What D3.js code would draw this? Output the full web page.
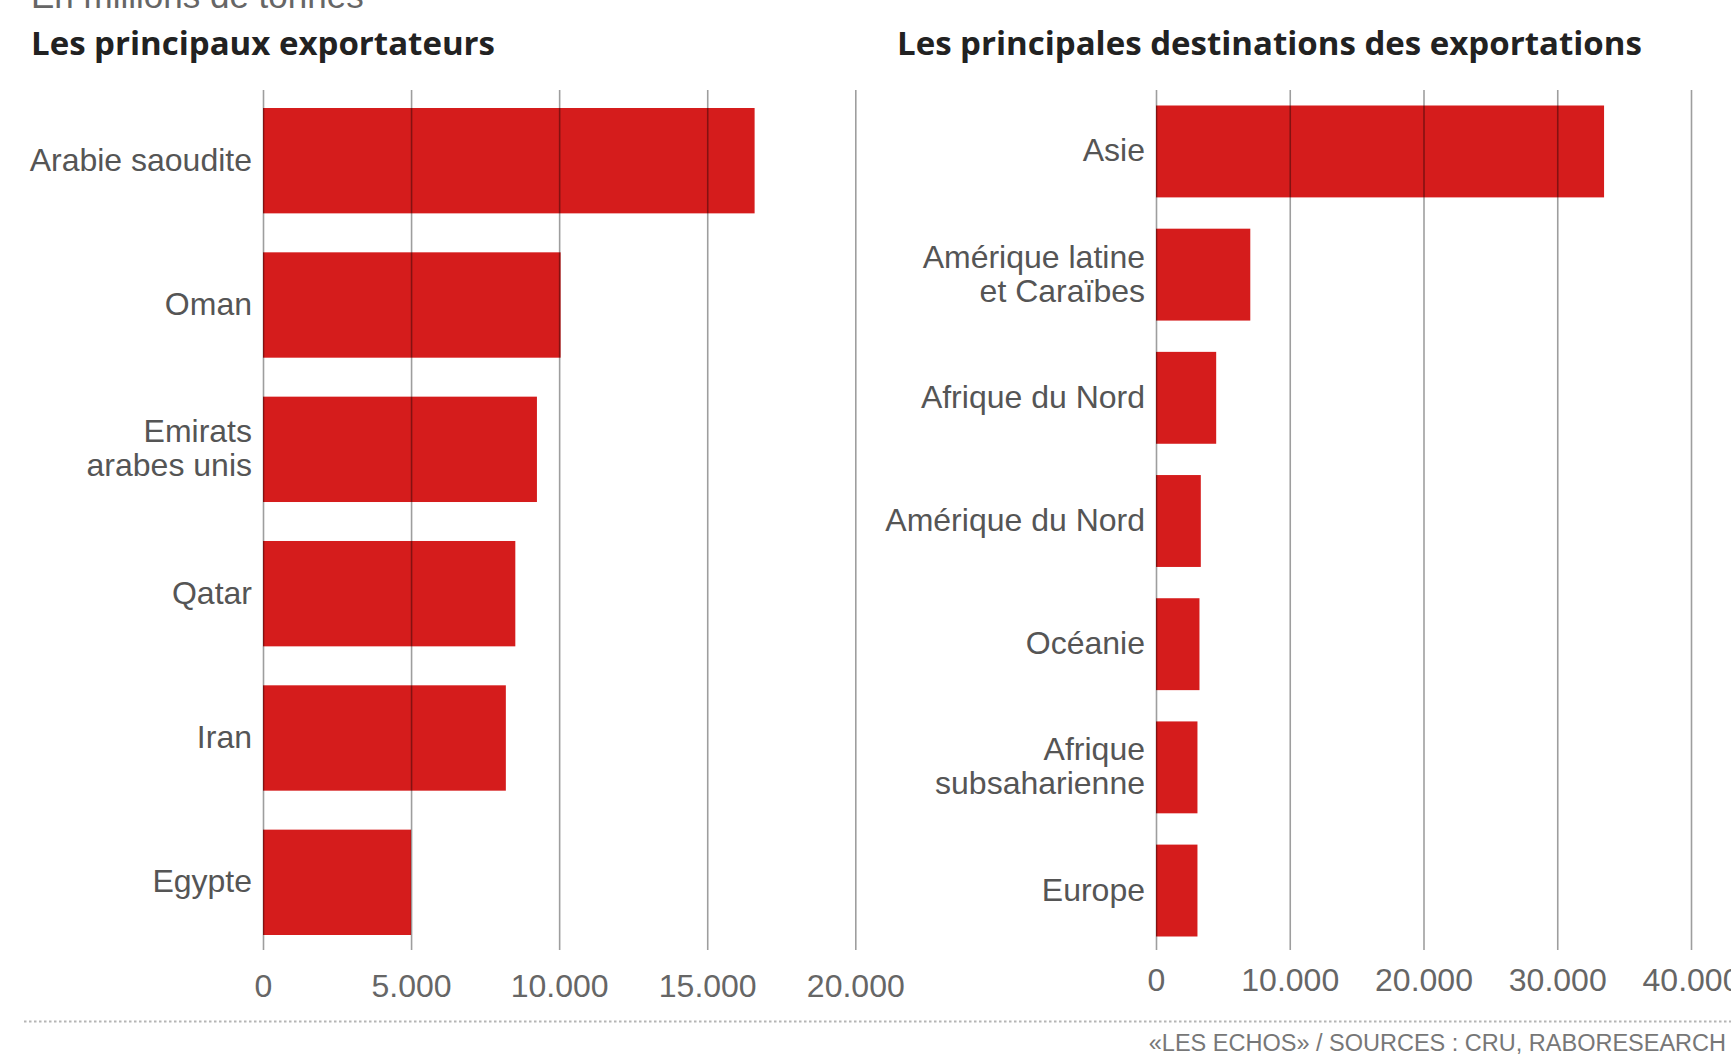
<!DOCTYPE html>
<html>
<head>
<meta charset="utf-8">
<script src="https://cdn.jsdelivr.net/npm/d3@7"></script>
<style>
  html, body { margin: 0; padding: 0; background: #fff; }
  svg { display: block; }
</style>
</head>
<body>
<svg id="chart" width="1731" height="1058"></svg>
<script>
// ---- Data ----
const exporters = ["Arabie saoudite", "Oman", "Emirats\narabes unis", "Qatar", "Iran", "Egypte"];
const exportValues = [16600, 10050, 9250, 8520, 8200, 5000];
const exportTicks = [0, 5000, 10000, 15000, 20000];

const destinations = ["Asie", "Amérique latine\net Caraïbes", "Afrique du Nord", "Amérique du Nord", "Océanie", "Afrique\nsubsaharienne", "Europe"];
const destinationValues = [33500, 7050, 4500, 3350, 3250, 3100, 3100];
const destinationTicks = [0, 10000, 20000, 30000, 40000];

const subtitle = "En millions de tonnes";
const leftTitle = "Les principaux exportateurs";
const rightTitle = "Les principales destinations des exportations";
const source = "«LES ECHOS» / SOURCES : CRU, RABORESEARCH";

// ---- Styles ----
const RED = "#d51c1c";
const LABEL_FONT = "'Liberation Sans', Arial, sans-serif";
const TITLE_FONT = "'Open Sans', 'Liberation Sans', Arial, sans-serif";

const svg = d3.select("#chart");
const fr = d3.formatLocale({decimal: ",", thousands: ".", grouping: [3], currency: ["", ""]});
const fmt = fr.format(",d");

// header texts
svg.append("text")
  .attr("x", 31).attr("y", 8)
  .attr("font-family", LABEL_FONT).attr("font-size", 35)
  .attr("fill", "#666")
  .text(subtitle);

svg.append("text")
  .attr("x", 31).attr("y", 55)
  .attr("font-family", TITLE_FONT).attr("font-weight", 700).attr("font-size", 33)
  .attr("fill", "#222")
  .text(leftTitle);

svg.append("text")
  .attr("x", 897).attr("y", 55)
  .attr("font-family", TITLE_FONT).attr("font-weight", 700).attr("font-size", 33)
  .attr("fill", "#222")
  .text(rightTitle);

function panel(cfg) {
  const g = svg.append("g");
  const x = d3.scaleLinear().domain(cfg.domain).range(cfg.xRange);
  const y = d3.scaleBand().domain(cfg.cats).range(cfg.yRange).paddingInner(cfg.pad).paddingOuter(0);

  g.selectAll("rect.bar")
    .data(cfg.cats.map((c, i) => ({c, v: cfg.values[i]})))
    .join("rect")
    .attr("class", "bar")
    .attr("x", x(0))
    .attr("y", d => y(d.c))
    .attr("width", d => x(d.v) - x(0))
    .attr("height", y.bandwidth())
    .attr("fill", RED);

  // category labels
  const lab = g.selectAll("text.cat")
    .data(cfg.cats)
    .join("text")
    .attr("class", "cat")
    .attr("text-anchor", "end")
    .attr("font-family", LABEL_FONT)
    .attr("font-size", 32)
    .attr("fill", "#555");
  lab.each(function(c) {
    const lines = c.split("\n");
    const cy = y(c) + y.bandwidth() / 2;
    const lh = 34;
    const t = d3.select(this);
    lines.forEach((ln, k) => {
      t.append("tspan")
        .attr("x", x(0) - 11)
        .attr("y", cy + 10 + (k - (lines.length - 1) / 2) * lh)
        .text(ln);
    });
  });

  // axis + gridlines (drawn above bars)
  const axis = d3.axisBottom(x)
    .tickValues(cfg.ticks)
    .tickFormat(fmt)
    .tickSizeInner(-(cfg.gridBottom - cfg.gridTop))
    .tickSizeOuter(0)
    .tickPadding(cfg.tickPad);
  const ag = g.append("g")
    .attr("transform", `translate(0,${cfg.gridBottom})`)
    .call(axis);
  ag.select(".domain").remove();
  ag.selectAll(".tick line")
    .attr("stroke", "rgba(0,0,0,0.38)")
    .attr("stroke-width", 1.6);
  ag.selectAll(".tick text")
    .attr("font-family", LABEL_FONT)
    .attr("font-size", 32)
    .attr("fill", "#666");
}

panel({
  cats: exporters, values: exportValues, ticks: exportTicks,
  domain: [0, 20000], xRange: [263, 855.3],
  yRange: [108, 935], pad: 0.27,
  gridTop: 90, gridBottom: 950, tickPad: 24
});

panel({
  cats: destinations, values: destinationValues, ticks: destinationTicks,
  domain: [0, 40000], xRange: [1156, 1691],
  yRange: [105.5, 936.5], pad: 0.254,
  gridTop: 90, gridBottom: 950, tickPad: 18
});

// footer
svg.append("line")
  .attr("x1", 24).attr("x2", 1731)
  .attr("y1", 1021.5).attr("y2", 1021.5)
  .attr("stroke", "#b5b5b5")
  .attr("stroke-width", 2)
  .attr("stroke-dasharray", "2.5,2.5");

svg.append("text")
  .attr("x", 1726).attr("y", 1051)
  .attr("text-anchor", "end")
  .attr("font-family", LABEL_FONT)
  .attr("font-size", 23.5)
  .attr("fill", "#777")
  .text(source);
</script>
</body>
</html>
